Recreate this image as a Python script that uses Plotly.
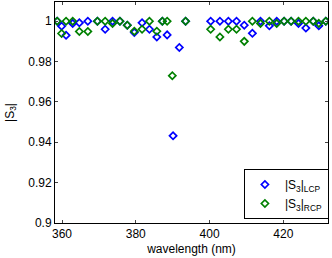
import plotly.graph_objects as go

# LCP (blue) series
wl_lcp = [358.7, 359.9, 361.1, 362.9, 364.7, 367.0, 369.6, 371.7, 373.7, 375.7,
          377.7, 379.6, 381.7, 383.7, 385.7, 387.2, 388.5, 390.1, 391.8, 393.5,
          400.3, 402.8, 405.1, 407.3, 409.4, 411.6, 413.8, 416.2, 418.2, 420.2,
          422.1, 424.1, 426.1, 428.1, 429.6, 431.5]
s3_lcp = [1.0, 0.9975, 0.993, 0.9989, 0.9992, 1.0, 1.0, 0.996, 1.0, 1.0,
          0.998, 0.9944, 0.9992, 0.996, 0.9922, 1.0, 0.9932, 0.9432, 0.987, 1.0,
          1.0, 1.0, 1.0, 1.0, 0.998, 0.994, 1.0, 0.9977, 1.0, 1.0,
          1.0, 0.9989, 0.9966, 1.0, 0.9977, 1.0]

# RCP (green) series
wl_rcp = [358.7, 359.9, 361.1, 362.9, 364.7, 367.0, 369.6, 371.7, 373.7, 375.7,
          377.7, 379.6, 381.7, 383.7, 385.7, 387.2, 388.5, 389.9, 393.5,
          400.3, 402.8, 405.1, 407.3, 409.4, 411.6, 413.8, 416.2, 418.2, 420.2,
          422.1, 424.1, 426.1, 428.1, 429.6, 431.5]
s3_rcp = [1.0, 0.9939, 1.0, 1.0, 0.9949, 0.9949, 1.0, 1.0, 0.9989, 1.0,
          0.998, 0.995, 0.996, 1.0, 0.995, 1.0, 1.0, 0.973, 1.0,
          0.996, 0.9922, 0.996, 0.996, 0.990, 1.0, 0.9989, 1.0, 0.9989, 1.0,
          1.0, 1.0, 1.0, 1.0, 0.9989, 1.0]

x_ticks = [360, 380, 400, 420]
y_ticks = [0.9, 0.92, 0.94, 0.96, 0.98, 1.0]
y_ticktext = ["0.9", "0.92", "0.94", "0.96", "0.98", "1"]

fig = go.Figure()
fig.add_trace(go.Scatter(
    x=wl_lcp, y=s3_lcp, mode="markers", name="|S<sub>3</sub>|<sub>LCP</sub>",
    marker=dict(symbol="diamond-open", size=5.5, color="#0000ff", line=dict(width=1.7, color="#0000ff")),
))
fig.add_trace(go.Scatter(
    x=wl_rcp, y=s3_rcp, mode="markers", name="|S<sub>3</sub>|<sub>RCP</sub>",
    marker=dict(symbol="diamond-open", size=5.5, color="#008000", line=dict(width=1.7, color="#008000")),
))

fig.update_layout(
    width=332, height=258,
    margin=dict(l=55, r=4, t=2, b=35, autoexpand=False),
    paper_bgcolor="white", plot_bgcolor="white",
    font=dict(family="Liberation Sans, Arial, sans-serif", size=12, color="black"),
    showlegend=True,
    legend=dict(
        x=0.692, y=0.018, xanchor="left", yanchor="bottom",
        bgcolor="white", bordercolor="black", borderwidth=1,
        font=dict(size=12), itemwidth=30, tracegroupgap=0,
    ),
    xaxis=dict(
        range=[358.1, 432.1], tickvals=x_ticks, ticks="inside", ticklen=3,
        showline=True, linecolor="black", linewidth=1, mirror="ticks",
        showgrid=False, zeroline=False, automargin=False,
        title=dict(text="wavelength (nm)", standoff=4, font=dict(size=12)),
    ),
    yaxis=dict(
        range=[0.9, 1.0095], tickvals=y_ticks, ticktext=y_ticktext, ticks="inside", ticklen=3,
        showline=True, linecolor="black", linewidth=1, mirror="ticks",
        showgrid=False, zeroline=False, automargin=False,
        title=dict(text="|S<sub>3</sub>|", standoff=11, font=dict(size=12)),
    ),
)

fig.write_html("out.html", config={"displayModeBar": False},
               post_script="document.body.style.margin='0';")
